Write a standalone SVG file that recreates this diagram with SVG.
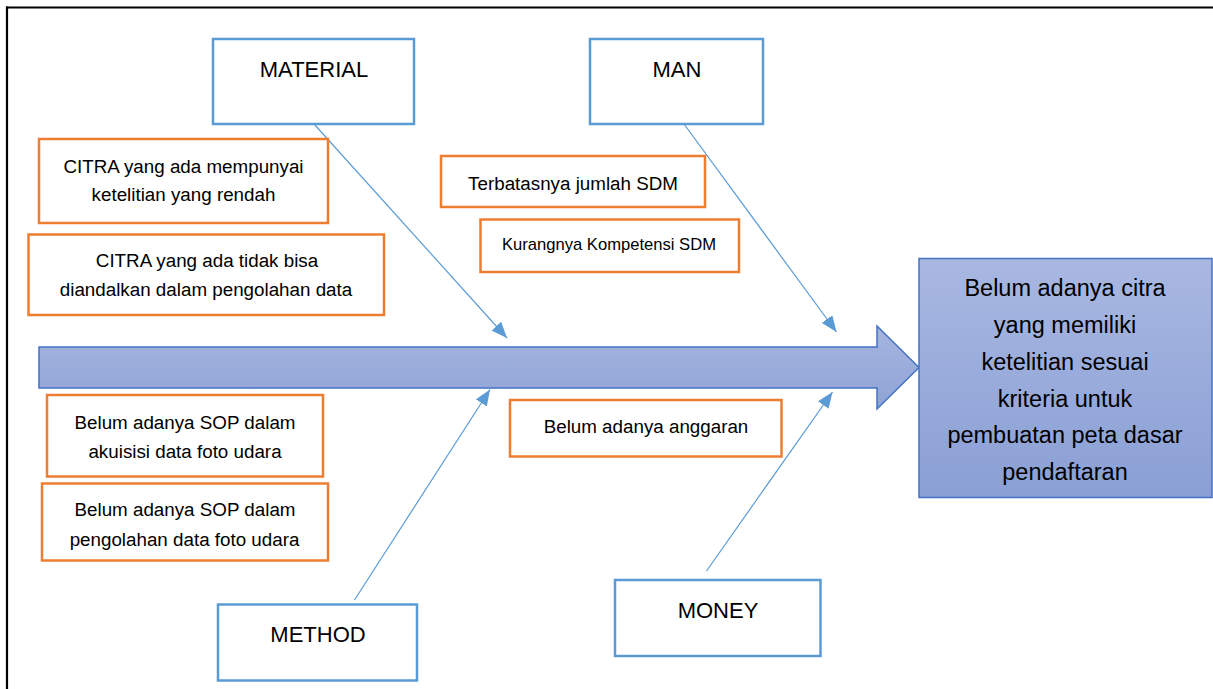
<svg xmlns="http://www.w3.org/2000/svg" width="1213" height="689" viewBox="0 0 1213 689">
<style>
  .blue { fill:#ffffff; stroke:#5b9bd5; stroke-width:2.5; }
  .orange { fill:#ffffff; stroke:#ed7d31; stroke-width:2.5; }
  .t { font-family:"Liberation Sans", Arial, sans-serif; fill:#000000; text-anchor:middle; }
  .title { font-size:22px; }
  .cause { font-size:18.8px; }
  .effect { font-size:23.5px; }
  .conn { stroke:#5b9bd5; stroke-width:1.2; fill:none; marker-end:url(#ah); }
</style>
<defs>
  <marker id="ah" markerUnits="userSpaceOnUse" markerWidth="17" markerHeight="13" refX="16" refY="6.5" orient="auto">
    <path d="M0,0 L16,6.5 L0,13 Z" fill="#5b9bd5"/>
  </marker>
  <linearGradient id="gArrow" x1="0" y1="0" x2="0" y2="1">
    <stop offset="0" stop-color="#a6b5df"/>
    <stop offset="1" stop-color="#8ea3d6"/>
  </linearGradient>
  <linearGradient id="gEffect" x1="0" y1="0" x2="0" y2="1">
    <stop offset="0" stop-color="#a9b8e1"/>
    <stop offset="1" stop-color="#8a9fd5"/>
  </linearGradient>
</defs>
<rect x="0" y="0" width="1213" height="689" fill="#ffffff"/>
<g id="frame">
  <line x1="6" y1="7.5" x2="1213" y2="7.5" stroke="#000" stroke-width="2.2"/>
  <line x1="7" y1="6.5" x2="7" y2="689" stroke="#000" stroke-width="2.2"/>
</g>

<g id="spine">
  <path d="M39,347 L877,347 L877,326 L919,367.5 L877,409 L877,388 L39,388 Z" fill="url(#gArrow)" stroke="#4472c4" stroke-width="1.5"/>
</g>

<g id="effect">
  <rect x="919" y="258.5" width="293" height="239" fill="url(#gEffect)" stroke="#4472c4" stroke-width="1.5"/>
  <text class="t effect" x="1065" y="296">Belum adanya citra</text>
  <text class="t effect" x="1065" y="333">yang memiliki</text>
  <text class="t effect" x="1065" y="369.5">ketelitian sesuai</text>
  <text class="t effect" x="1065" y="406.5">kriteria untuk</text>
  <text class="t effect" x="1065" y="443">pembuatan peta dasar</text>
  <text class="t effect" x="1065" y="480">pendaftaran</text>
</g>

<g id="connectors">
  <line class="conn" x1="314" y1="124" x2="507" y2="338"/>
  <line class="conn" x1="684" y1="124" x2="836.5" y2="332"/>
  <line class="conn" x1="354.5" y1="600" x2="490" y2="389.5"/>
  <line class="conn" x1="706.5" y1="571" x2="832.5" y2="392"/>
</g>

<g id="material">
  <rect class="blue" x="213" y="39" width="201" height="85"/>
  <text class="t title" x="314" y="76.5">MATERIAL</text>
</g>
<g id="man">
  <rect class="blue" x="590" y="39" width="173" height="85"/>
  <text class="t title" x="677" y="76.5">MAN</text>
</g>
<g id="method">
  <rect class="blue" x="218" y="604.5" width="199" height="76"/>
  <text class="t title" x="318" y="641.5">METHOD</text>
</g>
<g id="money">
  <rect class="blue" x="615" y="580" width="205.5" height="76"/>
  <text class="t title" x="718" y="617.5">MONEY</text>
</g>

<g id="cause-citra-1">
  <rect class="orange" x="39" y="139" width="289" height="84"/>
  <text class="t cause" x="183.5" y="172.5">CITRA yang ada mempunyai</text>
  <text class="t cause" x="183.5" y="201">ketelitian yang rendah</text>
</g>
<g id="cause-citra-2">
  <rect class="orange" x="28.5" y="234.5" width="355.5" height="80.5"/>
  <text class="t cause" x="207" y="267">CITRA yang ada tidak bisa</text>
  <text class="t cause" x="206" y="296">diandalkan dalam pengolahan data</text>
</g>
<g id="cause-sdm-1">
  <rect class="orange" x="441" y="156" width="264" height="51"/>
  <text class="t cause" x="573" y="189.5">Terbatasnya jumlah SDM</text>
</g>
<g id="cause-sdm-2">
  <rect class="orange" x="480.5" y="219.5" width="258.5" height="52.5"/>
  <text class="t" style="font-size:16.6px" x="609" y="249.5">Kurangnya Kompetensi SDM</text>
</g>
<g id="cause-sop-1">
  <rect class="orange" x="47" y="395" width="276" height="81.5"/>
  <text class="t cause" x="185" y="428.5">Belum adanya SOP dalam</text>
  <text class="t cause" x="185" y="457.5">akuisisi data foto udara</text>
</g>
<g id="cause-sop-2">
  <rect class="orange" x="42" y="483.5" width="286" height="77"/>
  <text class="t cause" x="185" y="516">Belum adanya SOP dalam</text>
  <text class="t cause" x="184.5" y="545.5">pengolahan data foto udara</text>
</g>
<g id="cause-anggaran">
  <rect class="orange" x="510" y="400" width="271.5" height="56.5"/>
  <text class="t cause" x="646" y="433">Belum adanya anggaran</text>
</g>
</svg>
